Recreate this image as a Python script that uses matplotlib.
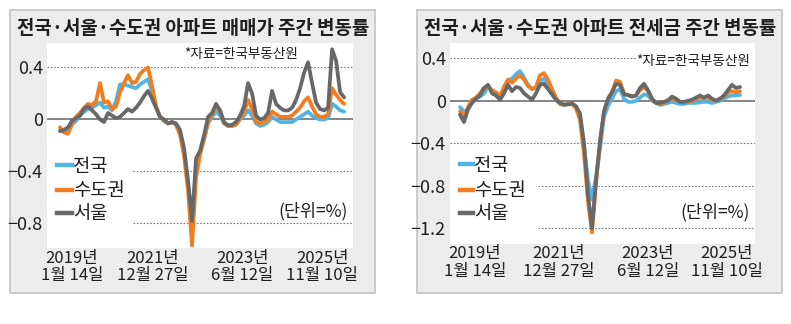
import numpy as np
import matplotlib.pyplot as plt
from matplotlib.patches import Rectangle
from matplotlib.lines import Line2D

plt.rcParams['font.family'] = ['Noto Sans CJK KR', 'DejaVu Sans']

W, H = 791, 324

# weekly change rate (%), sampled evenly from 2019-01-14 to 2025-11-10
sale_national = [-0.08, -0.09, -0.10, -0.04, -0.01, 0.03, 0.06, 0.08, 0.09, 0.11,
                 0.13, 0.09, 0.10, 0.07, 0.14, 0.27, 0.27, 0.26, 0.25, 0.24,
                 0.27, 0.29, 0.31, 0.22, 0.10, 0.02, -0.01, -0.03, -0.02, -0.04,
                 -0.10, -0.25, -0.50, -0.83, -0.38, -0.26, -0.15, -0.03, 0.02, 0.06,
                 0.03, -0.03, -0.05, -0.05, -0.04, 0.00, 0.03, 0.07, 0.03, -0.03,
                 -0.05, -0.04, -0.02, 0.02, 0.00, -0.02, -0.02, -0.02, -0.02, 0.00,
                 0.02, 0.04, 0.06, 0.03, 0.01, 0.00, 0.00, 0.01, 0.12, 0.10,
                 0.07, 0.06]
sale_capital = [-0.06, -0.10, -0.11, -0.03, 0.02, 0.05, 0.09, 0.12, 0.11, 0.14,
                0.28, 0.13, 0.14, 0.08, 0.10, 0.21, 0.28, 0.34, 0.28, 0.29,
                0.35, 0.38, 0.40, 0.26, 0.10, 0.02, -0.01, -0.03, -0.02, -0.04,
                -0.12, -0.28, -0.55, -0.97, -0.45, -0.27, -0.15, -0.02, 0.04, 0.10,
                0.06, -0.03, -0.05, -0.05, -0.04, 0.01, 0.06, 0.15, 0.08, -0.02,
                -0.03, -0.02, 0.00, 0.06, 0.04, 0.02, 0.02, 0.02, 0.03, 0.06,
                0.09, 0.14, 0.17, 0.10, 0.04, 0.02, 0.02, 0.04, 0.24, 0.19,
                0.15, 0.12]
sale_seoul = [-0.09, -0.08, -0.06, -0.01, 0.01, 0.03, 0.08, 0.10, 0.07, 0.04,
              0.00, -0.02, 0.05, 0.03, 0.01, 0.02, 0.05, 0.08, 0.06, 0.09,
              0.13, 0.18, 0.22, 0.16, 0.09, 0.02, 0.00, -0.03, -0.02, -0.03,
              -0.08, -0.22, -0.47, -0.78, -0.30, -0.24, -0.12, 0.02, 0.05, 0.12,
              0.07, -0.02, -0.045, -0.04, -0.02, 0.03, 0.10, 0.28, 0.20, 0.03,
              0.00, 0.01, 0.05, 0.22, 0.12, 0.09, 0.07, 0.07, 0.09, 0.15,
              0.24, 0.36, 0.44, 0.28, 0.13, 0.08, 0.07, 0.09, 0.54, 0.45,
              0.21, 0.17]

jeonse_national = [-0.06, -0.10, -0.08, -0.01, 0.02, 0.04, 0.07, 0.13, 0.10, 0.06,
                   0.04, 0.12, 0.19, 0.21, 0.25, 0.28, 0.22, 0.15, 0.11, 0.12,
                   0.18, 0.21, 0.16, 0.07, 0.01, -0.03, -0.04, -0.03, -0.03, -0.06,
                   -0.15, -0.42, -0.75, -0.93, -0.72, -0.45, -0.15, -0.05, 0.02, 0.09,
                   0.11, 0.02, -0.01, -0.01, 0.00, 0.03, 0.06, 0.05, 0.00, -0.02,
                   -0.04, -0.03, -0.02, -0.01, -0.02, -0.03, -0.03, -0.02, -0.02, -0.02,
                   -0.015, -0.01, -0.01, -0.02, -0.01, 0.00, 0.02, 0.04, 0.05, 0.05,
                   0.055]
jeonse_capital = [-0.10, -0.15, -0.06, 0.01, 0.03, 0.07, 0.12, 0.14, 0.10, 0.08,
                  0.04, 0.13, 0.20, 0.17, 0.21, 0.24, 0.20, 0.14, 0.11, 0.13,
                  0.24, 0.26, 0.20, 0.11, 0.03, -0.03, -0.04, -0.03, -0.03, -0.07,
                  -0.18, -0.50, -0.95, -1.24, -0.78, -0.40, -0.10, 0.02, 0.08, 0.19,
                  0.18, 0.07, 0.05, 0.04, 0.05, 0.10, 0.13, 0.09, 0.01, -0.02,
                  -0.03, -0.02, 0.01, 0.02, 0.01, -0.01, -0.01, -0.01, 0.00, 0.02,
                  0.03, 0.02, 0.03, 0.01, 0.00, 0.02, 0.04, 0.08, 0.09, 0.08,
                  0.09]
jeonse_seoul = [-0.13, -0.20, -0.08, -0.02, 0.02, 0.05, 0.12, 0.15, 0.07, 0.05,
                0.01, 0.07, 0.15, 0.09, 0.13, 0.12, 0.07, 0.04, 0.01, 0.07,
                0.15, 0.16, 0.11, 0.06, 0.01, -0.02, -0.035, -0.035, -0.025, -0.05,
                -0.12, -0.40, -0.88, -1.20, -0.75, -0.38, -0.10, 0.02, 0.08, 0.16,
                0.15, 0.06, 0.055, 0.04, 0.05, 0.12, 0.16, 0.10, 0.02, -0.02,
                -0.02, -0.01, 0.00, 0.04, 0.02, -0.01, -0.01, 0.00, 0.01, 0.03,
                0.05, 0.03, 0.05, 0.02, 0.00, 0.02, 0.05, 0.10, 0.15, 0.12,
                0.13]

series_names = ['전국', '수도권', '서울']
date_labels = ['2019년\n1월 14일', '2021년\n12월 27일', '2023년\n6월 12일', '2025년\n11월 10일']
sale_ticks = [0.4, 0, -0.4, -0.8]
jeonse_ticks = [0.4, 0, -0.4, -0.8, -1.2]

colors = ['#52b4e4', '#f07d20', '#686868']
frame_bg = '#ececec'
frame_edge = '#c4c4c4'
ink = '#1e1e1e'


def fx(x):
    return x / W


def fy(y):
    return 1 - y / H


def tick_text(v):
    return '0' if v == 0 else f'{v:.1f}'.replace('-', '−')


fig = plt.figure(figsize=(W / 100, H / 100), dpi=100)
fig.patch.set_facecolor('white')

panels = [
    dict(frame=(10, 10, 375, 293), box=(47, 43.3, 352.5, 248.3), ylim=(-0.991, 0.586),
         xlim=(-3.25, 73.1), xt=[3, 23.25, 45.5, 65.5],
         title='전국·서울·수도권 아파트 매매가 주간 변동률',
         data=[sale_national, sale_capital, sale_seoul], ticks=sale_ticks,
         grid={0.4: 0.0, -0.4: 0.28, -0.8: 0.28},
         grid_end={0.4: 1.0},
         source=(241, 54), unit=(313, 211), leg=(57, 72, [165, 190, 213])),
    dict(frame=(417, 10, 782, 293), box=(450, 43.3, 755, 244), ylim=(-1.348, 0.541),
         xlim=(-2.5, 73.75), xt=[3.75, 24.75, 47, 66.75],
         title='전국·서울·수도권 아파트 전세금 주간 변동률',
         data=[jeonse_national, jeonse_capital, jeonse_seoul], ticks=jeonse_ticks,
         grid={0.4: 0.0, -0.4: 0.0, -0.8: 0.29, -1.2: 0.29},
         grid_end={0.4: 0.605},
         source=(693, 61), unit=(715, 212), leg=(460, 473, [164, 190, 213])),
]

for p in panels:
    x0, y0, x1, y1 = p['frame']
    fig.patches.append(Rectangle((fx(x0), fy(y1)), fx(x1 - x0), (y1 - y0) / H,
                                 transform=fig.transFigure, facecolor=frame_bg,
                                 edgecolor=frame_edge, linewidth=1.2, zorder=-5))
    fig.text(fx((x0 + x1) / 2 + 1), fy(29), p['title'], ha='center', va='center',
             fontsize=13.6, fontweight='bold', color=ink)

    bx0, by0, bx1, by1 = p['box']
    ax = fig.add_axes([fx(bx0), fy(by1), fx(bx1 - bx0), (by1 - by0) / H])
    ax.set_facecolor('white')
    for s in ax.spines.values():
        s.set_visible(False)
    ax.set_xlim(*p['xlim'])
    ax.set_ylim(*p['ylim'])

    # reference lines
    ax.axhline(0, color='#707070', lw=1.2, zorder=1)
    for v, start in p['grid'].items():
        end = p['grid_end'].get(v, 1.0)
        ax.plot([start, end], [v, v], transform=ax.get_yaxis_transform(),
                color='#7a7a7a', lw=0.8, ls=(0, (1.5, 1.5)), zorder=1)

    for vals, c in zip(p['data'], colors):
        ax.plot(np.arange(len(vals)), vals, color=c, lw=2.7,
                solid_joinstyle='round', solid_capstyle='round', zorder=3)

    ax.set_yticks(p['ticks'])
    ax.set_yticklabels([tick_text(v) for v in p['ticks']], fontsize=13, color=ink)
    ax.set_xticks(p['xt'])
    ax.set_xticklabels(date_labels, fontsize=12, color=ink, linespacing=1.05)
    ax.tick_params(length=0, axis='y', pad=3)
    ax.tick_params(length=0, axis='x', pad=1)

    fig.text(fx(p['source'][0]), fy(p['source'][1]), '*자료=한국부동산원',
             ha='center', va='center', fontsize=9.8, color=ink)
    fig.text(fx(p['unit'][0]), fy(p['unit'][1]), '(단위=%)',
             ha='center', va='center', fontsize=12.5, color=ink)

    lx0, lx1, lys = p['leg']
    for name, c, ly in zip(series_names, colors, lys):
        fig.add_artist(Line2D([fx(lx0), fx(lx1)], [fy(ly), fy(ly)],
                              transform=fig.transFigure, color=c, lw=3.2))
        fig.text(fx(lx1 + 1), fy(ly + 1), name, ha='left', va='center',
                 fontsize=13.5, color=ink)

fig.savefig('out.png', dpi=100)
